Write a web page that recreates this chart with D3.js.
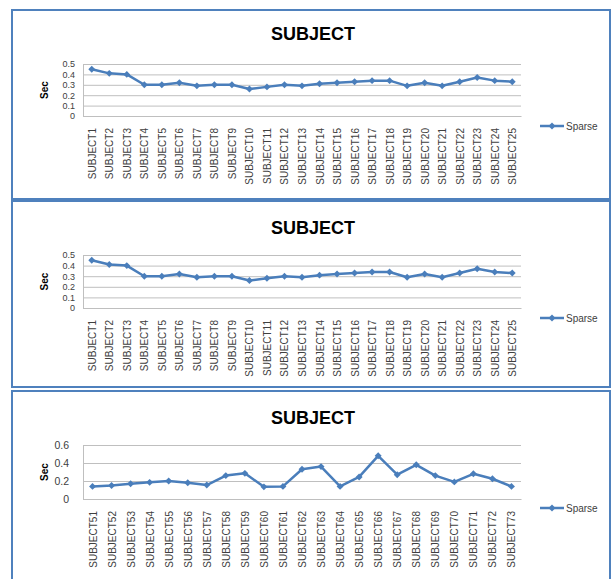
<!DOCTYPE html>
<html>
<head>
<meta charset="utf-8">
<script src="https://cdn.jsdelivr.net/npm/d3@7"></script>
<style>
  html, body { margin: 0; padding: 0; background: #ffffff; }
  svg { display: block; font-family: "Liberation Sans", Arial, sans-serif; }
</style>
</head>
<body>
<svg id="chart" width="614" height="579"></svg>
<script>
// Response times per subject, in seconds
const subjectsA = ["SUBJECT1","SUBJECT2","SUBJECT3","SUBJECT4","SUBJECT5","SUBJECT6","SUBJECT7","SUBJECT8","SUBJECT9","SUBJECT10","SUBJECT11","SUBJECT12","SUBJECT13","SUBJECT14","SUBJECT15","SUBJECT16","SUBJECT17","SUBJECT18","SUBJECT19","SUBJECT20","SUBJECT21","SUBJECT22","SUBJECT23","SUBJECT24","SUBJECT25"];
const sparseA = [0.45,0.41,0.40,0.30,0.30,0.32,0.29,0.30,0.30,0.26,0.28,0.30,0.29,0.31,0.32,0.33,0.34,0.34,0.29,0.32,0.29,0.33,0.37,0.34,0.33];
const ticksA = [0,0.1,0.2,0.3,0.4,0.5];

const subjectsB = ["SUBJECT51","SUBJECT52","SUBJECT53","SUBJECT54","SUBJECT55","SUBJECT56","SUBJECT57","SUBJECT58","SUBJECT59","SUBJECT60","SUBJECT61","SUBJECT62","SUBJECT63","SUBJECT64","SUBJECT65","SUBJECT66","SUBJECT67","SUBJECT68","SUBJECT69","SUBJECT70","SUBJECT71","SUBJECT72","SUBJECT73"];
const sparseB = [0.14,0.15,0.17,0.185,0.20,0.18,0.155,0.26,0.285,0.135,0.14,0.33,0.36,0.14,0.245,0.48,0.27,0.38,0.26,0.19,0.28,0.225,0.14];
const ticksB = [0,0.2,0.4,0.6];

const chartTitle = "SUBJECT";
const yTitle = "Sec";
const seriesName = "Sparse";

const blue = "#4a7ebb";
const svg = d3.select("#chart");

// One framed chart per panel
const panels = [
  { cats: subjectsA, vals: sparseA, ticks: ticksA, fmt: d3.format(".1f"), tickFont: 9,
    frame: [12, 10, 598, 189], titleY: 40, plotTop: 64, plotBottom: 116, tickPad: 8, legendY: 126 },
  { cats: subjectsA, vals: sparseA, ticks: ticksA, fmt: d3.format(".1f"), tickFont: 9,
    frame: [12, 201, 598, 186], titleY: 234, plotTop: 255, plotBottom: 308, tickPad: 8, legendY: 318 },
  { cats: subjectsB, vals: sparseB, ticks: ticksB, fmt: d3.format(".1f"), tickFont: 10.5,
    frame: [12, 391, 598, 200], titleY: 424, plotTop: 445, plotBottom: 499, tickPad: 14, legendY: 508 }
];

const plotLeft = 83, plotRight = 521;
const marker = d3.symbol(d3.symbolSquare, 24);

panels.forEach(p => {
  const g = svg.append("g");
  const [fx, fy, fw, fh] = p.frame;

  g.append("rect")
    .attr("x", fx).attr("y", fy).attr("width", fw).attr("height", fh)
    .attr("fill", "#ffffff").attr("stroke", "#4f81bd").attr("stroke-width", 2);

  g.append("text")
    .attr("x", 313).attr("y", p.titleY)
    .attr("text-anchor", "middle")
    .attr("font-size", 18).attr("font-weight", "bold").attr("fill", "#000")
    .text(chartTitle);

  const x = d3.scalePoint().domain(p.cats).range([plotLeft, plotRight]).padding(0.5);
  const y = d3.scaleLinear().domain([0, d3.max(p.ticks)]).range([p.plotBottom, p.plotTop]);

  // horizontal gridlines
  g.append("g")
    .attr("transform", `translate(${plotLeft},0)`)
    .call(d3.axisLeft(y).tickValues(p.ticks).tickSize(-(plotRight - plotLeft)).tickFormat(""))
    .call(a => a.select(".domain").remove())
    .call(a => a.selectAll("line").attr("stroke", "#bfbfbf").attr("stroke-width", 1));

  // value axis
  g.append("g")
    .attr("transform", `translate(${plotLeft},0)`)
    .call(d3.axisLeft(y).tickValues(p.ticks).tickSize(0).tickPadding(p.tickPad)
      .tickFormat(d => d === 0 ? "0" : p.fmt(d)))
    .call(a => a.select(".domain").attr("stroke", "#bfbfbf"))
    .call(a => a.selectAll("text").attr("font-size", p.tickFont).attr("fill", "#404040")
      .attr("font-family", "Liberation Sans, Arial, sans-serif"));

  // category axis
  g.append("g")
    .attr("transform", `translate(0,${p.plotBottom})`)
    .call(d3.axisBottom(x).tickSize(0).tickPadding(0))
    .call(a => a.select(".domain").attr("stroke", "#bfbfbf"))
    .call(a => a.selectAll("text")
      .attr("font-size", 10).attr("fill", "#404040")
      .attr("font-family", "Liberation Sans, Arial, sans-serif")
      .attr("text-anchor", "end")
      .attr("transform", "translate(0,12) rotate(-90)")
      .attr("x", 0).attr("y", 0).attr("dy", "0.35em"));

  // axis title
  g.append("text")
    .attr("transform", `translate(48,${(p.plotTop + p.plotBottom) / 2}) rotate(-90)`)
    .attr("text-anchor", "middle")
    .attr("font-size", 10).attr("font-weight", "bold").attr("fill", "#000")
    .text(yTitle);

  // series line with diamond markers
  const pts = p.cats.map((c, i) => [x(c), y(p.vals[i])]);
  g.append("path")
    .attr("d", d3.line()(pts))
    .attr("fill", "none").attr("stroke", blue).attr("stroke-width", 2.5)
    .attr("stroke-linejoin", "round");

  g.append("g").selectAll("path")
    .data(pts).join("path")
    .attr("d", marker)
    .attr("transform", d => `translate(${d[0]},${d[1]}) rotate(45)`)
    .attr("fill", blue);

  // legend
  const lg = g.append("g").attr("transform", `translate(540,${p.legendY})`);
  lg.append("line").attr("x1", 0).attr("x2", 24).attr("y1", 0).attr("y2", 0)
    .attr("stroke", blue).attr("stroke-width", 2.5);
  lg.append("path").attr("d", marker).attr("transform", "translate(12,0) rotate(45)").attr("fill", blue);
  lg.append("text").attr("x", 26).attr("y", 0).attr("dy", "0.35em")
    .attr("font-size", 10).attr("fill", "#404040").text(seriesName);
});
</script>
</body>
</html>
